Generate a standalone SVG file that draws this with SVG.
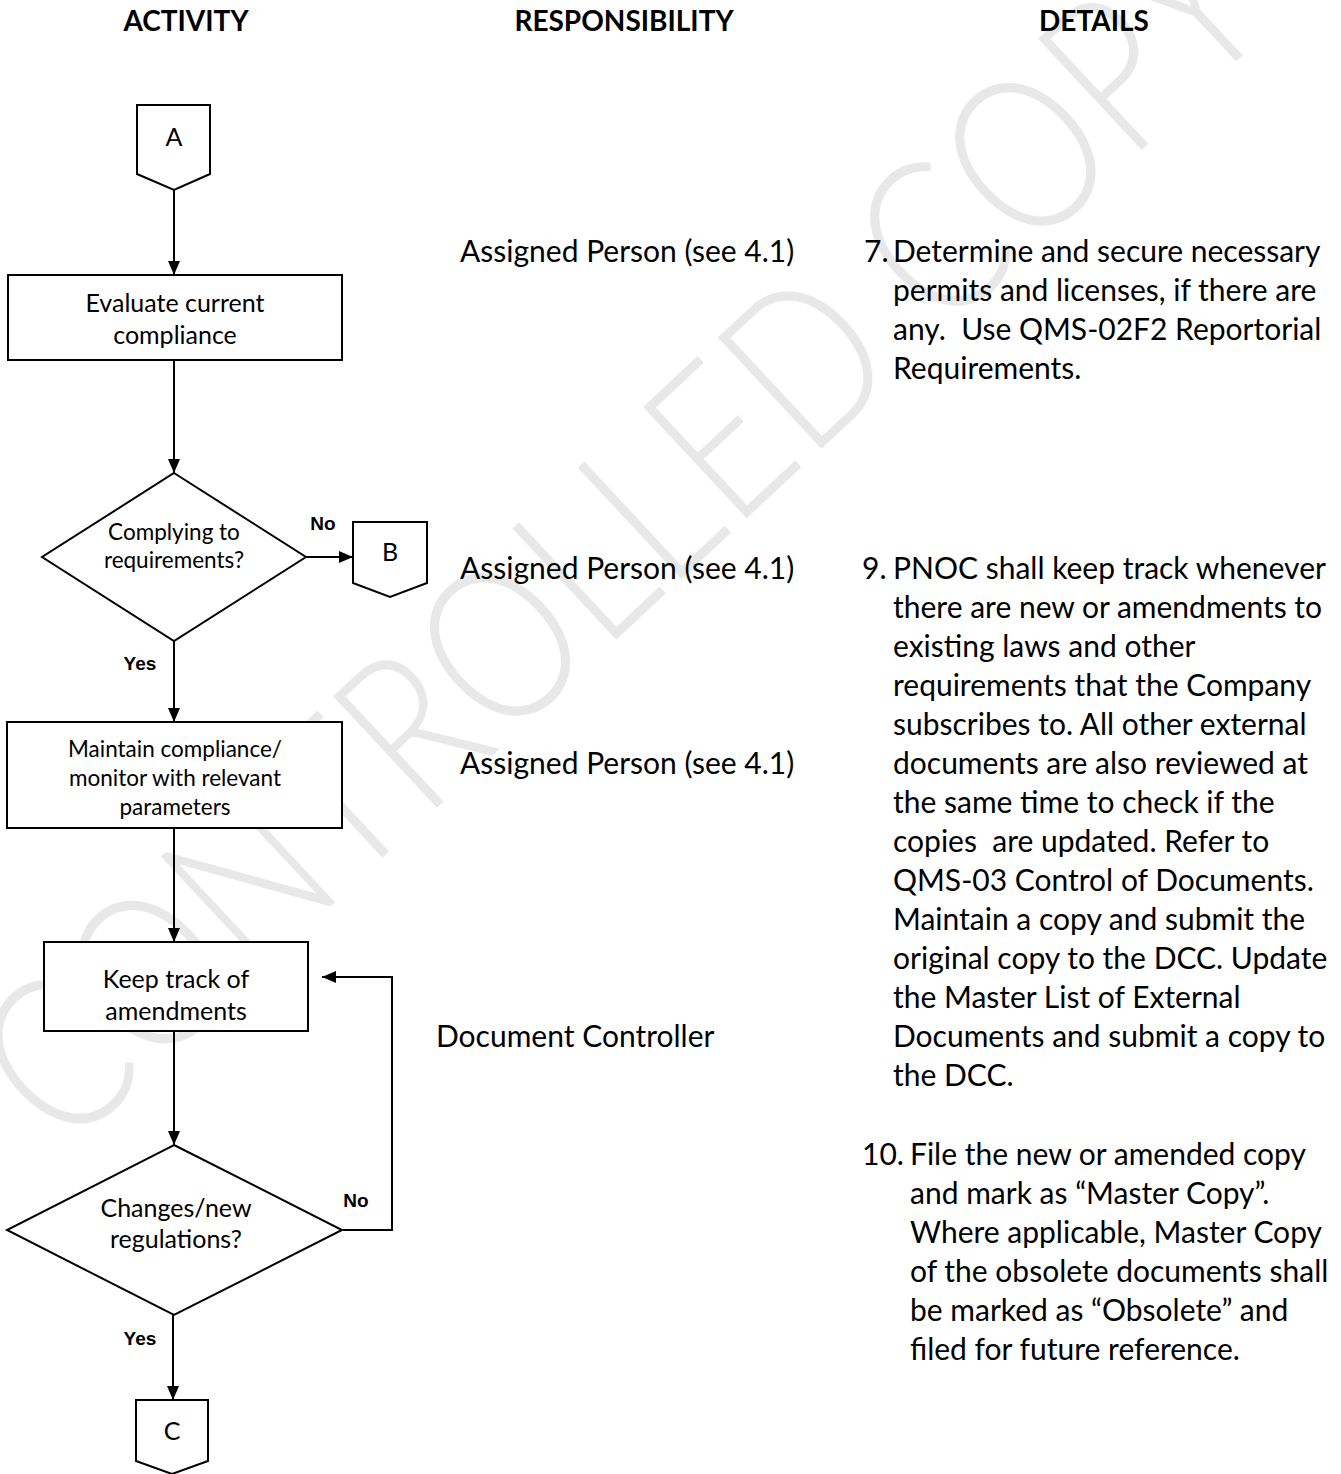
<svg xmlns="http://www.w3.org/2000/svg" width="1341" height="1474" viewBox="0 0 1341 1474">
<style>
.sh{fill:#fff;stroke:#000;stroke-width:2}
.ln{fill:none;stroke:#000;stroke-width:2}
.t{font-family:Lato,"Liberation Sans",sans-serif;fill:#000}
.c{text-anchor:middle}
.h{font-family:Lato,"Liberation Sans",sans-serif;font-weight:bold;font-size:28px;text-anchor:middle}
.yn{font-family:"Liberation Sans",Arial,sans-serif;font-weight:bold;font-size:19px;text-anchor:middle}
.d{font-size:30px}
.b{font-size:25px}
.s{font-size:22.5px}
.wm{font-family:Lato,"Liberation Sans",sans-serif;font-weight:300;font-size:215px;fill:#e8e8e8;text-anchor:middle}
</style>
<defs>
<marker id="ah" markerUnits="userSpaceOnUse" markerWidth="14" markerHeight="12" refX="14" refY="6" orient="auto">
<path d="M0,0 L14,6 L0,12 Z" fill="#000"/>
</marker>
</defs>
<rect width="1341" height="1474" fill="#fff"/>
<text class="wm" x="630" y="605" transform="rotate(-43 630 545)" textLength="1660" lengthAdjust="spacingAndGlyphs">CONTROLLED COPY</text>

<g id="headers">
<text class="h" x="186" y="31">ACTIVITY</text>
<text class="h" x="624" y="31">RESPONSIBILITY</text>
<text class="h" x="1094" y="31">DETAILS</text>
</g>

<g id="connectors">
<line class="ln" x1="174" y1="190" x2="174" y2="275" marker-end="url(#ah)"/>
<line class="ln" x1="174" y1="360" x2="174" y2="473" marker-end="url(#ah)"/>
<line class="ln" x1="306" y1="557" x2="353" y2="557" marker-end="url(#ah)"/>
<line class="ln" x1="174" y1="641" x2="174" y2="722" marker-end="url(#ah)"/>
<line class="ln" x1="174" y1="828" x2="174" y2="942" marker-end="url(#ah)"/>
<line class="ln" x1="174" y1="1031" x2="174" y2="1145" marker-end="url(#ah)"/>
<polyline class="ln" points="343,1230 392,1230 392,977 322,977" marker-end="url(#ah)"/>
<line class="ln" x1="173" y1="1315" x2="173" y2="1400" marker-end="url(#ah)"/>
<text class="yn" x="323" y="530">No</text>
<text class="yn" x="140" y="670">Yes</text>
<text class="yn" x="356" y="1207">No</text>
<text class="yn" x="140" y="1345">Yes</text>
</g>

<g id="connA">
<polygon class="sh" points="137,105 210,105 210,174 174,190 137,174"/>
<text class="t c b" x="174" y="146">A</text>
</g>
<g id="box1">
<rect class="sh" x="8" y="275" width="334" height="85"/>
<text class="t c b" x="175" y="312">Evaluate current</text>
<text class="t c b" x="175" y="344">compliance</text>
</g>
<g id="dec1">
<polygon class="sh" points="174,473 306,557 174,641 42,557"/>
<text class="t c s" x="174" y="540">Complying to</text>
<text class="t c s" x="174" y="568">requirements?</text>
</g>
<g id="connB">
<polygon class="sh" points="353,522 427,522 427,583 390,597 353,583"/>
<text class="t c b" x="390" y="561">B</text>
</g>
<g id="box2">
<rect class="sh" x="7" y="722" width="335" height="106"/>
<text class="t c s" x="175" y="757">Maintain compliance/</text>
<text class="t c s" x="175" y="786">monitor with relevant</text>
<text class="t c s" x="175" y="815">parameters</text>
</g>
<g id="box3">
<rect class="sh" x="44" y="942" width="264" height="89"/>
<text class="t c b" x="176" y="988">Keep track of</text>
<text class="t c b" x="176" y="1020">amendments</text>
</g>
<g id="dec2">
<polygon class="sh" points="174,1145 342,1230 174,1315 7,1230"/>
<text class="t c b" x="176" y="1217">Changes/new</text>
<text class="t c b" x="176" y="1248">regulations?</text>
</g>
<g id="connC">
<polygon class="sh" points="136,1400 208,1400 208,1461 172,1474 136,1461"/>
<text class="t c b" x="172" y="1440">C</text>
</g>

<g id="responsibility">
<text class="t d" x="460" y="262">Assigned Person (see 4.1)</text>
<text class="t d" x="460" y="579">Assigned Person (see 4.1)</text>
<text class="t d" x="460" y="774">Assigned Person (see 4.1)</text>
<text class="t d" x="436" y="1047">Document Controller</text>
</g>

<g id="details">
<text class="t d" x="864" y="262">7.</text>
<text class="t d" x="893" y="262">Determine and secure necessary</text>
<text class="t d" x="893" y="301">permits and licenses, if there are</text>
<text class="t d" x="893" y="340" xml:space="preserve">any.  Use QMS-02F2 Reportorial</text>
<text class="t d" x="893" y="379">Requirements.</text>

<text class="t d" x="862" y="579">9.</text>
<text class="t d" x="893" y="579">PNOC shall keep track whenever</text>
<text class="t d" x="893" y="618">there are new or amendments to</text>
<text class="t d" x="893" y="657">existing laws and other</text>
<text class="t d" x="893" y="696">requirements that the Company</text>
<text class="t d" x="893" y="735">subscribes to. All other external</text>
<text class="t d" x="893" y="774">documents are also reviewed at</text>
<text class="t d" x="893" y="813">the same time to check if the</text>
<text class="t d" x="893" y="852" xml:space="preserve">copies  are updated. Refer to</text>
<text class="t d" x="893" y="891">QMS-03 Control of Documents.</text>
<text class="t d" x="893" y="930">Maintain a copy and submit the</text>
<text class="t d" x="893" y="969">original copy to the DCC. Update</text>
<text class="t d" x="893" y="1008">the Master List of External</text>
<text class="t d" x="893" y="1047">Documents and submit a copy to</text>
<text class="t d" x="893" y="1086">the DCC.</text>

<text class="t d" x="862" y="1165">10.</text>
<text class="t d" x="910" y="1165">File the new or amended copy</text>
<text class="t d" x="910" y="1204">and mark as “Master Copy”.</text>
<text class="t d" x="910" y="1243">Where applicable, Master Copy</text>
<text class="t d" x="910" y="1282">of the obsolete documents shall</text>
<text class="t d" x="910" y="1321">be marked as “Obsolete” and</text>
<text class="t d" x="910" y="1360">filed for future reference.</text>
</g>
</svg>
